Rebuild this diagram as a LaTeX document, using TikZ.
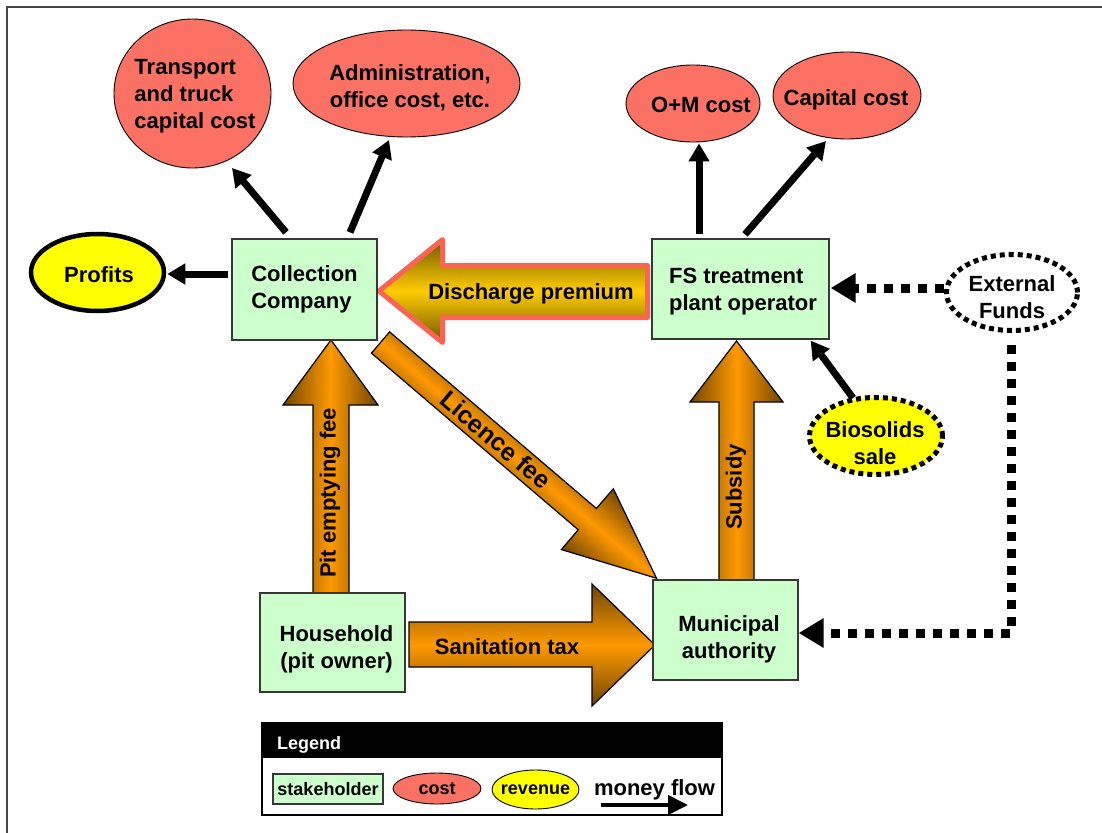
\documentclass[tikz,border=0pt]{standalone}
\usepackage{fontspec}
\setmainfont{Liberation Sans}
\usetikzlibrary{arrows.meta,shapes.geometric}
\definecolor{stake}{RGB}{204,255,204}
\definecolor{costc}{RGB}{251,113,99}
\definecolor{revc}{RGB}{255,255,0}
\definecolor{orng}{RGB}{255,153,0}
\definecolor{orngdk}{RGB}{112,70,0}
\definecolor{goldc}{RGB}{255,204,0}
\definecolor{golddk}{RGB}{112,88,0}
\definecolor{salm}{RGB}{250,100,85}
\definecolor{edgec}{RGB}{55,55,55}
\definecolor{framec}{RGB}{70,70,70}
\begin{document}
\begin{tikzpicture}[x=1pt,y=-1pt,
  every node/.style={font=\bfseries\fontsize{22}{27}\selectfont, inner sep=0pt},
  smallfont/.style={font=\bfseries\fontsize{18}{22}\selectfont},
  stakebox/.style={draw=edgec, line width=1.3pt, fill=stake, rectangle},
  costell/.style={draw=black, line width=0.9pt, fill=costc, ellipse},
  reveell/.style={draw=black, line width=0.9pt, fill=revc, ellipse},
  dotell/.style={draw=black, ellipse, line width=5pt, dash pattern=on 5pt off 4pt},
  money/.style={draw=black, line width=7pt, -{Triangle[length=18pt,width=20pt]}},
  dotflow/.style={draw=black, line width=9pt, dash pattern=on 9pt off 8pt, -{Triangle[length=25pt,width=28pt]}},
  flowarrow/.style={draw=black, line width=1.2pt, line join=miter}
]
\useasboundingbox (0,0) rectangle (1102,832);
\fill[white] (0,0) rectangle (1102,832);
% frame
\draw[framec, line width=2pt] (7,840) -- (7,7) -- (1110,7);

% ---- broad flow arrows ----
% pit emptying fee
\draw[flowarrow, left color=orngdk, right color=orngdk, middle color=orng]
  (313,594) -- (313,405) -- (283,405) -- (331,340) -- (378,405) -- (349,405) -- (349,594) -- cycle;
\node[rotate=90] (pitt) at (330,493) {Pit emptying fee};
% subsidy
\draw[flowarrow, left color=orngdk, right color=orngdk, middle color=orng]
  (719,581) -- (719,402) -- (690,402) -- (736.5,341) -- (783,402) -- (754,402) -- (754,581) -- cycle;
\node[rotate=90] (subt) at (736,487) {Subsidy};
% sanitation tax
\draw[flowarrow, top color=orngdk, bottom color=orngdk, middle color=orng]
  (409,622) -- (592,622) -- (592,584) -- (655,645) -- (592,706) -- (592,667) -- (409,667) -- cycle;
\node (sant) at (507,647) {Sanitation tax};
% licence fee
\begin{scope}[transform canvas={shift={(380.5,342.5)}, rotate=-40.5}]
\draw[flowarrow, top color=orngdk, bottom color=orngdk, middle color=orng]
  (0,-14) -- (272,-14) -- (272,-40) -- (363,0) -- (272,40) -- (272,14) -- (0,14) -- cycle;
\end{scope}
\node[rotate=-40.5, font=\bfseries\fontsize{25}{30}\selectfont] (lict) at (496,440) {Licence fee};
% discharge premium
\draw[draw=salm, line width=5pt, line join=round, top color=golddk, bottom color=golddk, middle color=goldc]
  (379,291) -- (442.5,239.5) -- (442.5,265.5) -- (647.5,265.5) -- (647.5,317.5) -- (442.5,317.5) -- (442.5,342.5) -- cycle;
\node (dist) at (531,294) {Discharge premium};

% ---- stakeholders ----
\node[stakebox, minimum width=145pt, minimum height=101pt, align=left] (cc) at (304.5,289.5) {Collection\\Company};
\node[stakebox, minimum width=177pt, minimum height=100pt] (fs) at (740.5,289) {};
\node[align=left] (fst) at ([xshift=2.5pt,yshift=-3pt]fs.center) {FS treatment\\plant operator};
\node[stakebox, minimum width=145pt, minimum height=100pt] (ma) at (725.5,630) {};
\node[align=center] (mat) at ([xshift=3.5pt,yshift=-9pt]ma.center) {Municipal\\authority};
\node[stakebox, minimum width=145pt, minimum height=99pt] (hh) at (332.5,642.5) {};
\node[align=center] (hht) at ([xshift=4pt,yshift=-6.5pt]hh.center) {Household\\(pit owner)};

% ---- costs ----
\node[costell, minimum width=157pt, minimum height=149pt] (tr) at (192.5,93.5) {};
\node[align=left] (trt) at (195,96) {Transport\\and truck\\capital cost};
\node[costell, minimum width=227pt, minimum height=107pt] (ad) at (406.5,83.5) {};
\node[align=center] (adt) at (410,88) {Administration,\\office cost, etc.};
\node[costell, minimum width=134pt, minimum height=77pt] (om) at (693,103.5) {};
\node (omt) at (701,105) {O+M cost};
\node[costell, minimum width=148pt, minimum height=87pt] (cap) at (847,95.5) {};
\node (capt) at (846,100) {Capital cost};

% ---- revenues / funds ----
\node[reveell, line width=4.5pt, minimum width=133pt, minimum height=77pt] (pr) at (97.5,272.5) {};
\node (prt) at (99,275) {Profits};
\node[dotell, fill=revc, minimum width=133pt, minimum height=77pt] (bio) at (876,436) {};
\node[align=center] (biot) at (875,443) {Biosolids\\sale};
\node[dotell, fill=white, minimum width=131pt, minimum height=76pt] (ef) at (1012,292.5) {};
\node[align=center] (eft) at (1012,297) {External\\Funds};

% ---- money flow arrows ----
\draw[money] ([xshift=-18.5pt,yshift=6pt]cc.north) -- ([xshift=39.5pt,yshift=-74.5pt]tr.center);
\draw[money] ([xshift=45.5pt,yshift=6pt]cc.north) -- ([xshift=-17.5pt,yshift=-56.5pt]ad.center);
\draw[money] ([xshift=-3pt,yshift=15.5pt]cc.west) -- ([xshift=1pt,yshift=-1.5pt]pr.east);
\draw[money] ([xshift=-41.5pt,yshift=4pt]fs.north) -- ([xshift=6pt,yshift=-1pt]om.south);
\draw[money] ([xshift=4.5pt,yshift=4pt]fs.north) -- ([xshift=-21pt,yshift=-45.5pt]cap.center);
\draw[money] ([xshift=-23pt,yshift=38pt]bio.center) -- ([xshift=-19pt,yshift=-1pt]fs.south east);
\draw[dotflow] ([yshift=4.5pt]ef.west) -- ([xshift=1pt,yshift=1pt]fs.east);
\draw[dotflow] ([xshift=-1pt,yshift=-12pt]ef.south) |- ([yshift=-3pt]ma.east);

% ---- legend ----
\draw[black, line width=1.3pt, fill=white] (262,723) rectangle (722,815);
\fill[black] (262,723) rectangle (722,758);
\node[smallfont, text=white, anchor=base west] (lgt) at (277,749) {Legend};
\node[stakebox, smallfont, minimum width=110pt, minimum height=30pt] (lg1) at (328,789) {stakeholder};
\node[costell, minimum width=88pt, minimum height=31pt] (lg2) at (437,788.5) {};
\node[smallfont] (lg2t) at (437,789) {cost};
\node[reveell, minimum width=87pt, minimum height=39pt] (lg3) at (535.5,789.5) {};
\node[smallfont] (lg3t) at (535.5,790) {revenue};
\node[anchor=base] (lg4) at (654.5,795) {money flow};
\coordinate (mfa) at (601,805);
\coordinate (mfb) at (688,805);
\draw[black, line width=4pt, -{Triangle[length=20pt,width=19pt]}] (mfa) -- (mfb);
\end{tikzpicture}
\end{document}
